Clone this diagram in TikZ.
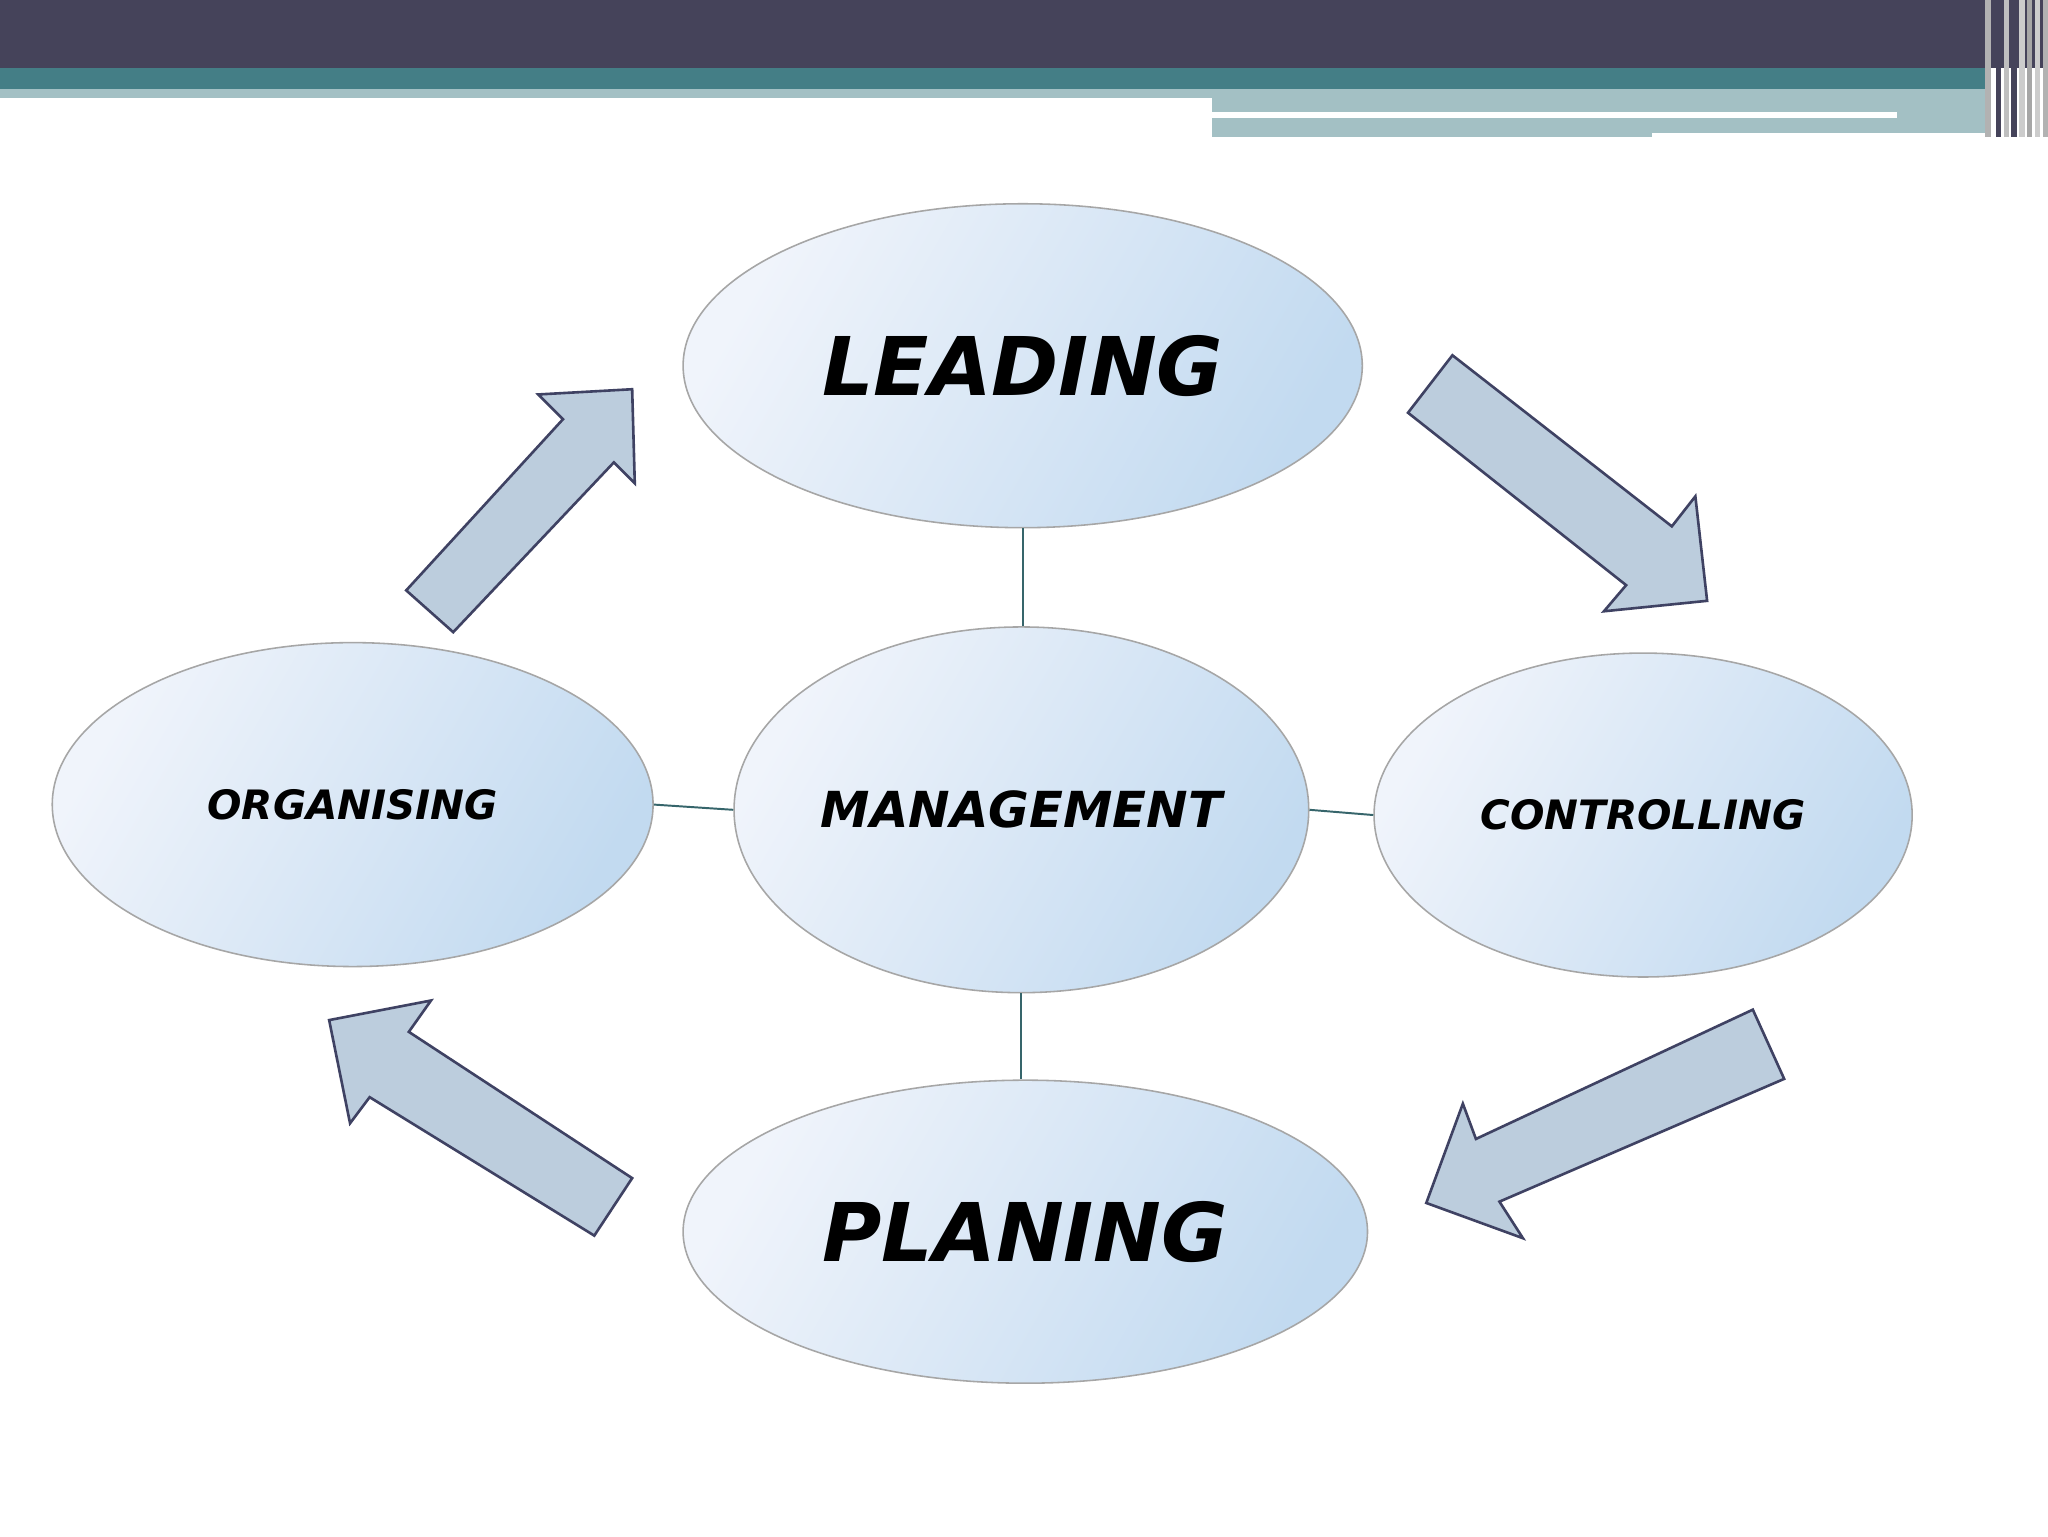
\documentclass[tikz,border=0pt]{standalone}
\usepackage{fontspec}
\setmainfont{DejaVu Sans}
\usetikzlibrary{shapes.geometric}
\definecolor{dark}{HTML}{45435A}
\definecolor{teal}{HTML}{447E86}
\definecolor{lteal}{HTML}{A3C0C4}
\definecolor{ellL}{HTML}{F0F4FB}
\definecolor{ellR}{HTML}{C2DAF0}
\definecolor{arrF}{HTML}{BCCDDD}
\definecolor{arrD}{HTML}{3F4263}
\begin{document}
\begin{tikzpicture}[x=1pt,y=-1pt,
 ell/.style={ellipse,draw=gray!70,line width=1.2pt,left color=ellL,right color=ellR,shading angle=60,inner sep=0pt},
 lab/.style={font=\bfseries\itshape},
 conn/.style={draw=teal!80!black,line width=1.5pt},
 barr/.style={fill=arrF,draw=arrD,line width=2pt,line join=miter}]
\useasboundingbox (0,0) rectangle (1568,1176);
\fill[white] (0,0) rectangle (1568,1176);
% header
\fill[dark] (0,0) rectangle (1568,52);
\fill[teal] (0,52) rectangle (1520,68);
\fill[lteal] (0,68) rectangle (928,75);
\fill[lteal] (928,68) rectangle (1520,105);
\fill[white] (928,86) rectangle (1452,90);
\fill[white] (1265,102) rectangle (1520,106);
\foreach \x/\c in {1520/gray!60,1528/dark,1534/gray!50,1540/dark,1546/gray!40,1552/gray!70,1558/gray!40,1564/gray!60}
  \fill[\c] (\x,0) rectangle ++(4,105);
% nodes
\node[ell,minimum width=520pt,minimum height=248pt] (lead) at (783,280) {};
\node[ell,minimum width=440pt,minimum height=280pt] (mgmt) at (782,620) {};
\node[ell,minimum width=460pt,minimum height=248pt] (org) at (270,616) {};
\node[ell,minimum width=412pt,minimum height=248pt] (ctrl) at (1258,624) {};
\node[ell,minimum width=524pt,minimum height=232pt] (plan) at (785,943) {};
\node[lab,font=\bfseries\itshape\fontsize{62}{62}\selectfont] at (lead) {LEADING};
\node[lab,font=\bfseries\itshape\fontsize{38}{38}\selectfont] at (mgmt) {MANAGEMENT};
\node[lab,font=\bfseries\itshape\fontsize{31}{31}\selectfont] at (org) {ORGANISING};
\node[lab,font=\bfseries\itshape\fontsize{31}{31}\selectfont] at (ctrl) {CONTROLLING};
\node[lab,font=\bfseries\itshape\fontsize{62}{62}\selectfont] at (plan) {PLANING};
% connectors
\draw[conn] (lead.south) -- (lead.south |- mgmt.north);
\draw[conn] (mgmt.west) -- (org.east);
\draw[conn] (mgmt.east) -- (ctrl.west);
\draw[conn] (mgmt.south) -- (mgmt.south |- plan.north);
% block arrows
\draw[barr] (347,484) -- (470,354) -- (486,370) -- (484,298) -- (412,302) -- (431,321) -- (311,452) -- cycle;
\draw[barr] (1078,316) -- (1112,272) -- (1280,403) -- (1298,380) -- (1307,460) -- (1228,468) -- (1245,448) -- cycle;
\draw[barr] (1342,773) -- (1366,826) -- (1148,920) -- (1166,948) -- (1092,921) -- (1120,845) -- (1130,872) -- cycle;
\draw[barr] (484,902) -- (455,946) -- (283,840) -- (268,860) -- (252,781) -- (330,766) -- (313,790) -- cycle;
\end{tikzpicture}
\end{document}
